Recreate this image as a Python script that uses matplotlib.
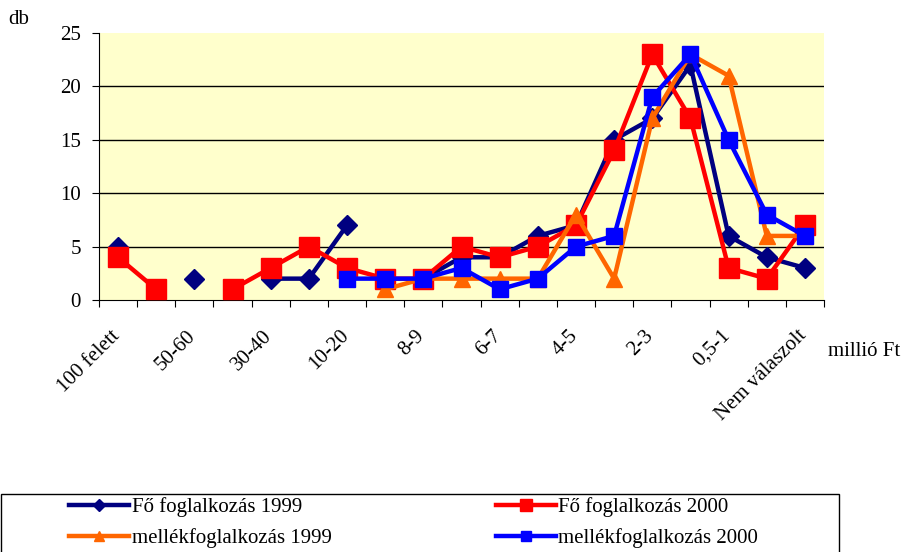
import numpy as np
import matplotlib
matplotlib.use("Agg")
import matplotlib.pyplot as plt
from matplotlib.patches import Rectangle
from matplotlib.transforms import ScaledTranslation

plt.rcParams['font.family'] = ['Liberation Serif', 'DejaVu Serif']

categories = ["100 felett", "60-100", "50-60", "40-50", "30-40", "20-30", "10-20",
              "9-10", "8-9", "7-8", "6-7", "5-6", "4-5", "3-4", "2-3", "1-2",
              "0,5-1", "0,5 alatt", "Nem válaszolt"]
nan = np.nan
fo_1999 = [5, nan, 2, nan, 2, 2, 7, nan, 2, 4, 4, 6, 7, 15, 17, 22, 6, 4, 3]
fo_2000 = [4, 1, nan, 1, 3, 5, 3, 2, 2, 5, 4, 5, 7, 14, 23, 17, 3, 2, 7]
mellek_1999 = [nan, nan, nan, nan, nan, nan, nan, 1, 2, 2, 2, 2, 8, 2, 17, 23, 21, 6, 6]
mellek_2000 = [nan, nan, nan, nan, nan, nan, 2, 2, 2, 3, 1, 2, 5, 6, 19, 23, 15, 8, 6]
labels = ["Fő foglalkozás 1999", "Fő foglalkozás 2000",
          "mellékfoglalkozás 1999", "mellékfoglalkozás 2000"]
y_ticks = [0, 5, 10, 15, 20, 25]

fig = plt.figure(figsize=(9.13, 5.52), dpi=100)
ax = fig.add_axes([99/913, 1-300/552, (824-99)/913, (300-33)/552])
ax.set_facecolor('#FFFFCC')

x = np.arange(len(categories))
h1, = ax.plot(x, fo_1999, color='#000080', lw=3.2, marker='D', ms=10.5, label=labels[0], zorder=3)
h2, = ax.plot(x, fo_2000, color='#FF0000', lw=3.2, marker='s', ms=14, label=labels[1], zorder=4)
h3, = ax.plot(x, mellek_1999, color='#FF6600', lw=3.2, marker='^', ms=12, label=labels[2], zorder=5)
h4, = ax.plot(x, mellek_2000, color='#0000FF', lw=3.2, marker='s', ms=11, label=labels[3], zorder=6)

ax.set_xlim(-0.5, len(categories) - 0.5)
ax.set_ylim(0, 25)
ax.set_yticks(y_ticks)
ax.tick_params(axis='y', labelsize=15, direction='out', length=5, color='black', pad=8)
for yv in y_ticks[1:-1]:
    ax.axhline(yv, color='black', lw=1, zorder=1)

ax.set_xticks(np.arange(-0.5, len(categories)), minor=False)
ax.set_xticklabels([])
ax.tick_params(axis='x', which='major', direction='out', length=5)
ax.set_xticks(x[::2], minor=True)
ax.set_xticklabels([categories[i] for i in x[::2]], minor=True, rotation=45,
                   ha='right', va='top', rotation_mode='anchor', fontsize=15)
ax.tick_params(axis='x', which='minor', length=0, pad=19)
off = ScaledTranslation(-8/100, 0, fig.dpi_scale_trans)
for lab in ax.xaxis.get_minorticklabels():
    lab.set_transform(lab.get_transform() + off)

for s in ['top', 'right']:
    ax.spines[s].set_visible(False)
ax.spines['left'].set_color('black')
ax.spines['bottom'].set_color('black')

fig.text(8/913, 1-19/552, "db", fontsize=15, ha='left', va='center')
fig.text(828/913, 1-352/552, "millió Ft", fontsize=15, ha='left', va='center')

fig.patches.append(Rectangle((0.5/913, -0.05), 838/913, (552-494)/552 + 0.05,
                             transform=fig.transFigure, fill=False, edgecolor='black', lw=1))
common = dict(frameon=False, fontsize=15, loc='upper left', handlelength=2.9,
              handletextpad=0.1, labelspacing=0.55, borderaxespad=0, borderpad=0,
              markerscale=0.6)
legA = fig.legend([h1, h3], [labels[0], labels[2]],
                  bbox_to_anchor=(69/913, 1-497/552), **common)
legB = fig.legend([h2, h4], [labels[1], labels[3]],
                  bbox_to_anchor=(496/913, 1-497/552), **common)

fig.savefig("out.png", dpi=100)
